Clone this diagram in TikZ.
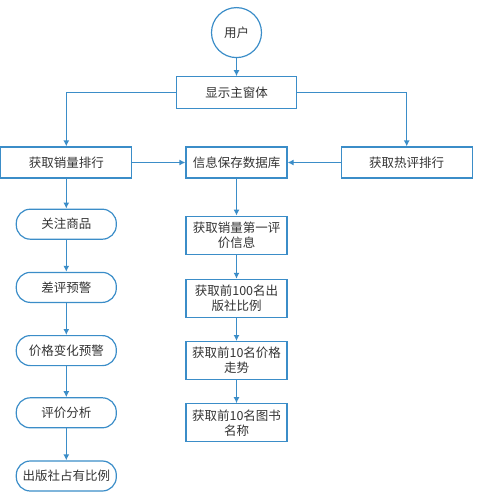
\documentclass[tikz,border=0pt]{standalone}
\usepackage{fontspec}
\setmainfont{Noto Sans CJK SC}
\usepackage{tikz}
\usetikzlibrary{arrows.meta,positioning,shapes.geometric}
\definecolor{flBlue}{HTML}{3B8DC8}
\definecolor{flText}{HTML}{333333}

\begin{document}
\begin{tikzpicture}[
  x=1pt,y=1pt,
  node distance=53pt,
  txt/.style={font=\fontsize{12.5}{15}\selectfont,text=flText,align=center,inner sep=1pt},
  rect/.style={txt,draw=flBlue,line width=1.2pt,minimum width=131pt,minimum height=31pt},
  midbox/.style={rect,minimum width=101pt,minimum height=38pt,text width=95pt},
  pill/.style={txt,draw=flBlue,line width=1.2pt,rounded corners=14pt,minimum width=100pt,minimum height=30pt},
  round/.style={txt,draw=flBlue,line width=1.2pt,circle,minimum size=50pt},
  flow/.style={-{Latex[length=6pt,width=6pt]},line width=1.2pt,flBlue}
]
  \useasboundingbox (0,0) rectangle (477,-492);
  % middle column
  \node[rect,minimum width=101pt] (db) at (236.5,-162.5) {信息保存数据库};
  \node[rect,left=of db] (sales) {获取销量排行};
  \node[rect,right=of db] (hot) {获取热评排行};
  \node[rect,minimum width=120pt,minimum height=32pt,above=37pt of db] (win) {显示主窗体};
  \node[round,above=18pt of win] (user) {用户};
  \node[midbox,below=37pt of db] (first) {获取销量第一评\\价信息};
  \node[midbox,below=24pt of first] (press) {获取前100名出\\版社比例};
  \node[midbox,below=23pt of press] (price) {获取前10名价格\\走势};
  \node[midbox,below=23pt of price] (title) {获取前10名图书\\名称};
  % left column
  \node[pill,below=30pt of sales] (follow) {关注商品};
  \node[pill,below=32pt of follow] (badrev) {差评预警};
  \node[pill,below=32pt of badrev] (change) {价格变化预警};
  \node[pill,below=31pt of change] (review) {评价分析};
  \node[pill,below=32pt of review] (share) {出版社占有比例};
  % connectors
  \draw[flow] (user) -- (win);
  \draw[flow] (win.west) -| (sales);
  \draw[flow] (win.east) -| (hot);
  \draw[flow] (sales) -- (db);
  \draw[flow] (hot) -- (db);
  \draw[flow] (db) -- (first);
  \draw[flow] (first) -- (press);
  \draw[flow] (press) -- (price);
  \draw[flow] (price) -- (title);
  \draw[flow] (sales) -- (follow);
  \draw[flow] (follow) -- (badrev);
  \draw[flow] (badrev) -- (change);
  \draw[flow] (change) -- (review);
  \draw[flow] (review) -- (share);
\end{tikzpicture}
\end{document}
